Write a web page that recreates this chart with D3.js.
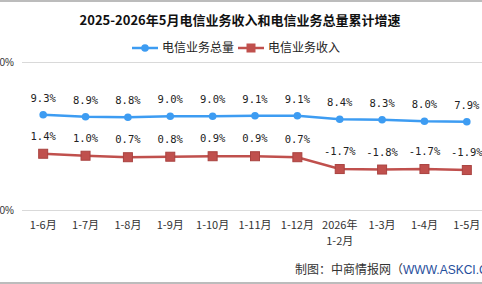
<!DOCTYPE html>
<html>
<head>
<meta charset="utf-8">
<script src="https://cdn.jsdelivr.net/npm/d3@7"></script>
<style>
  html, body { margin: 0; padding: 0; background: #fff; overflow: hidden; }
  svg { display: block; }
</style>
</head>
<body>
<div id="chart"></div>
<script>
// données du graphique
const categories = ["1-6月", "1-7月", "1-8月", "1-9月", "1-10月", "1-11月", "1-12月", "2026年\n1-2月", "1-3月", "1-4月", "1-5月"];
const totalVolume = [9.3, 8.9, 8.8, 9.0, 9.0, 9.1, 9.1, 8.4, 8.3, 8.0, 7.9];
const revenue = [1.4, 1.0, 0.7, 0.8, 0.9, 0.9, 0.7, -1.7, -1.8, -1.7, -1.9];
const yTicks = [-10, 20];

const width = 482, height = 284;
const blue = "#3d9cf2", red = "#c0504d";
const cjk = "'Noto Sans CJK SC', 'Noto Sans', sans-serif";

const svg = d3.select("#chart").append("svg")
    .attr("width", width)
    .attr("height", height);

// cadre
svg.append("line").attr("x1", 0).attr("x2", width).attr("y1", 1).attr("y2", 1)
    .attr("stroke", "#a6a6a6").attr("stroke-width", 1.5);
svg.append("line").attr("x1", 0).attr("x2", width).attr("y1", 283).attr("y2", 283)
    .attr("stroke", "#a6a6a6").attr("stroke-width", 1.5);

// titre
svg.append("text")
    .attr("x", 240).attr("y", 25)
    .attr("text-anchor", "middle")
    .attr("font-family", cjk)
    .attr("font-weight", "bold")
    .attr("font-size", "13px")
    .attr("fill", "#111")
    .text("2025-2026年5月电信业务收入和电信业务总量累计增速");

// échelles
const x = d3.scaleBand().domain(categories).range([22, 488]);
const cx = d => x(d) + x.bandwidth() / 2;
const y = d3.scaleLinear().domain([-10, 20]).range([210, 62]);

// axe y + grille
const yAxis = svg.append("g")
    .attr("transform", "translate(22,0)")
    .call(d3.axisLeft(y).tickValues(yTicks).tickSize(-470).tickFormat(d => d + "%"));
yAxis.select(".domain").remove();
yAxis.selectAll(".tick line").attr("stroke", "#d9d9d9");
yAxis.selectAll(".tick text")
    .attr("x", -8)
    .attr("font-family", "'Liberation Sans', sans-serif")
    .attr("font-size", "10px")
    .attr("fill", "#333");

// axe x
const xAxis = svg.append("g")
    .attr("transform", "translate(0,210)")
    .call(d3.axisBottom(x).tickSize(0).tickFormat(""));
xAxis.select(".domain").remove();
xAxis.selectAll(".tick").each(function (d) {
    const lines = d.split("\n");
    const t = d3.select(this).append("text")
        .attr("text-anchor", "middle")
        .attr("font-family", cjk)
        .attr("font-size", "11px")
        .attr("fill", "#333");
    lines.forEach((l, i) => {
        t.append("tspan").attr("x", 0).attr("y", 19 + i * 16).text(l);
    });
});

// lignes
const line = d3.line().x((d, i) => cx(categories[i])).y(d => y(d));

svg.append("path").datum(totalVolume)
    .attr("d", line).attr("fill", "none")
    .attr("stroke", blue).attr("stroke-width", 2.5);
svg.append("path").datum(revenue)
    .attr("d", line).attr("fill", "none")
    .attr("stroke", red).attr("stroke-width", 2.5);

// marqueurs
svg.selectAll(".dot").data(totalVolume).enter().append("circle")
    .attr("cx", (d, i) => cx(categories[i]))
    .attr("cy", d => y(d))
    .attr("r", 3.8)
    .attr("fill", blue);

svg.selectAll(".sq").data(revenue).enter().append("rect")
    .attr("x", (d, i) => cx(categories[i]) - 4.5)
    .attr("y", d => y(d) - 4.5)
    .attr("width", 9).attr("height", 9)
    .attr("fill", red).attr("stroke", "#a94340").attr("stroke-width", 1);

// étiquettes
const labelFont = "'DejaVu Sans Mono', monospace";
svg.selectAll(".lb").data(totalVolume).enter().append("text")
    .attr("x", (d, i) => cx(categories[i]))
    .attr("y", d => y(d) - 13)
    .attr("text-anchor", "middle")
    .attr("font-family", labelFont)
    .attr("font-size", "10.5px")
    .attr("fill", "#222")
    .text(d => d.toFixed(1) + "%");

svg.selectAll(".lr").data(revenue).enter().append("text")
    .attr("x", (d, i) => cx(categories[i]))
    .attr("y", d => y(d) - 14)
    .attr("text-anchor", "middle")
    .attr("font-family", labelFont)
    .attr("font-size", "10.5px")
    .attr("fill", "#222")
    .text(d => d.toFixed(1) + "%");

// légende
const lg = svg.append("g").attr("font-family", cjk).attr("font-size", "12px").attr("fill", "#222");
lg.append("line").attr("x1", 132).attr("x2", 158).attr("y1", 48).attr("y2", 48)
    .attr("stroke", blue).attr("stroke-width", 2.5);
lg.append("circle").attr("cx", 145).attr("cy", 48).attr("r", 3.8).attr("fill", blue);
lg.append("text").attr("x", 162).attr("y", 52).text("电信业务总量");
lg.append("line").attr("x1", 238).attr("x2", 264).attr("y1", 48).attr("y2", 48)
    .attr("stroke", red).attr("stroke-width", 2.5);
lg.append("rect").attr("x", 246.5).attr("y", 43.5).attr("width", 9).attr("height", 9)
    .attr("fill", red);
lg.append("text").attr("x", 268).attr("y", 52).text("电信业务收入");

// source
const src = svg.append("text")
    .attr("x", 295).attr("y", 274)
    .attr("font-family", cjk)
    .attr("font-size", "12px");
src.append("tspan").attr("fill", "#333").text("制图：中商情报网（");
src.append("tspan").attr("fill", "#1f4e9c").attr("font-family", "'Liberation Sans', sans-serif").text("WWW.ASKCI.COM）");
</script>
</body>
</html>
